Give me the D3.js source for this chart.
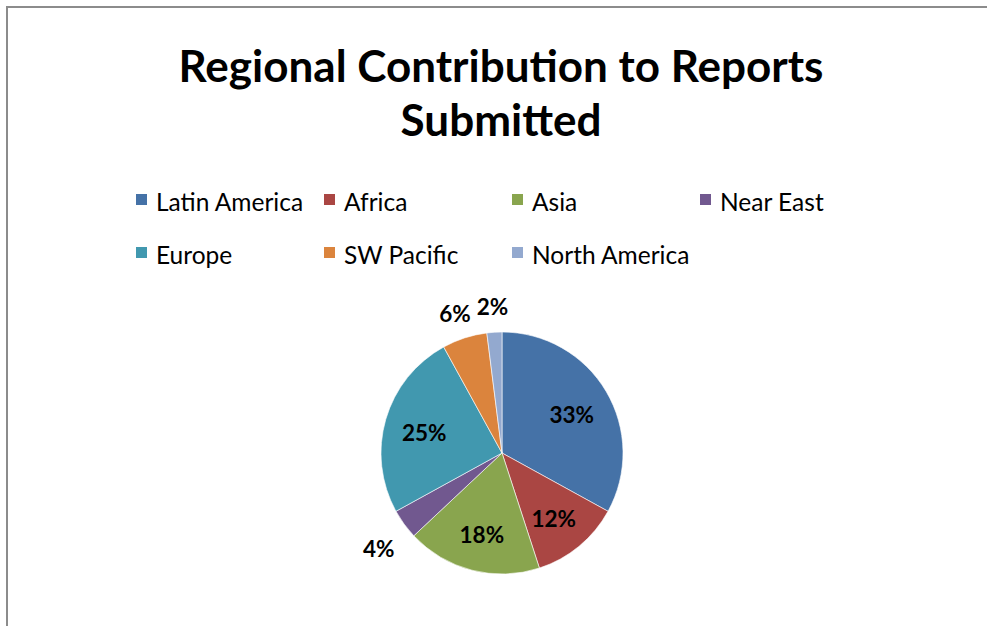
<!DOCTYPE html>
<html>
<head>
<meta charset="utf-8">
<script src="https://cdn.jsdelivr.net/npm/d3@7"></script>
<style>
  html, body { margin: 0; padding: 0; background: #ffffff; }
  svg { display: block; }
  text { font-family: "Lato", "Open Sans", sans-serif; fill: #000; }
</style>
</head>
<body>
<svg id="chart" width="987" height="626"></svg>
<script>
const titleLines = ["Regional Contribution to Reports", "Submitted"];
const categories = ["Latin America", "Africa", "Asia", "Near East", "Europe", "SW Pacific", "North America"];
const values = [33, 12, 18, 4, 25, 6, 2];
const colors = ["#4572A7", "#AA4643", "#89A54E", "#71588F", "#4198AF", "#DB843D", "#93A9CF"];
const outsideLabels = ["Near East", "SW Pacific", "North America"];

const W = 987, H = 626;
const svg = d3.select("#chart");

// frame (chart area border, clipped by the window on right/bottom)
svg.append("rect")
  .attr("x", 7).attr("y", 7)
  .attr("width", W + 20).attr("height", H + 20)
  .attr("fill", "#fff")
  .attr("stroke", "#8c8c8c")
  .attr("stroke-width", 2);

// title
svg.append("g").selectAll("text")
  .data(titleLines)
  .join("text")
  .attr("x", 501)
  .attr("y", (d, i) => 82 + i * 54)
  .attr("text-anchor", "middle")
  .attr("font-size", 44)
  .attr("font-weight", "bold")
  .text(d => d);

// legend
const legendCols = 4;
const legendX = d3.scaleLinear().domain([0, 1]).range([136, 324]);
const legendY = d3.scaleLinear().domain([0, 1]).range([211, 264]);
const leg = svg.append("g").selectAll("g")
  .data(categories)
  .join("g")
  .attr("transform", (d, i) => `translate(${legendX(i % legendCols)},${legendY(Math.floor(i / legendCols))})`);
leg.append("rect")
  .attr("x", 0).attr("y", -17)
  .attr("width", 11).attr("height", 11)
  .attr("fill", (d, i) => colors[i]);
leg.append("text")
  .attr("x", 20).attr("y", 0)
  .attr("font-size", 24.5)
  .attr("fill", "#111")
  .text(d => d);

// pie
const cx = 502, cy = 453, r = 121;
const pie = d3.pie().sort(null).value(d => d.value);
const data = categories.map((c, i) => ({ name: c, value: values[i], color: colors[i] }));
const arcs = pie(data);
const arc = d3.arc().innerRadius(0).outerRadius(r);
const inArc = d3.arc().innerRadius(r * 0.67).outerRadius(r * 0.67);
const outArc = d3.arc().innerRadius(r * 1.26).outerRadius(r * 1.26);

const g = svg.append("g").attr("transform", `translate(${cx},${cy})`);
g.selectAll("path")
  .data(arcs)
  .join("path")
  .attr("d", arc)
  .attr("fill", d => d.data.color)
  .attr("stroke", "#fff")
  .attr("stroke-width", 0.6);

const total = d3.sum(values);
g.selectAll("text.lbl")
  .data(arcs)
  .join("text")
  .attr("class", "lbl")
  .attr("transform", d => {
    const out = outsideLabels.includes(d.data.name);
    const p = out ? outArc.centroid(d) : inArc.centroid(d);
    return `translate(${p[0]},${p[1] + (out ? 6 : 3)})`;
  })
  .attr("text-anchor", "middle")
  .attr("dy", "0.36em")
  .attr("font-size", 22.5)
  .attr("font-weight", "bold")
  .text(d => Math.round(d.data.value / total * 100) + "%");
</script>
</body>
</html>
